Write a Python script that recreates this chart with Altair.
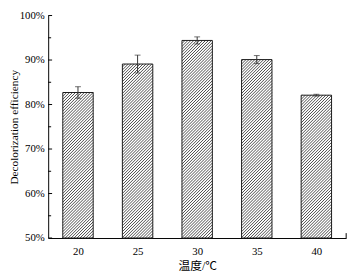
import altair as alt

temps = [20, 25, 30, 35, 40]
eff = [82.7, 89.1, 94.4, 90.1, 82.1]
err = [1.3, 2.0, 0.8, 0.9, 0.2]
tick_major = [50, 60, 70, 80, 90, 100]
tick_minor = [55, 65, 75, 85, 95]

W, H = 304, 227
X0, X1 = 17.5, 42.5
Y0, Y1 = 50, 100
HALF = 1.275          # half bar width in °C units
KX = W / (X1 - X0)    # px per x unit
KY = H / (Y1 - Y0)    # px per y unit

FONT = "Liberation Serif, Noto Sans CJK SC"
HATCH_COLOR = "#4a4a4a"
HATCH_STEP = 3.0      # horizontal spacing of hatch lines, px

rows = []
hatch = []
for t, v, e in zip(temps, eff, err):
    xl, xr = t - HALF, t + HALF
    rows.append({"t": t, "xl": xl, "xr": xr, "v": v, "base": Y0,
                 "lo": v - e, "hi": v + e})
    w = (xr - xl) * KX
    h = (v - Y0) * KY
    c = -w + HATCH_STEP / 2
    while c < h:
        a = max(0.0, -c)
        b = min(w, h - c)
        if b > a:
            hatch.append({"x": xl + a / KX, "x2": xl + b / KX,
                          "y": Y0 + (a + c) / KY, "y2": Y0 + (b + c) / KY})
        c += HATCH_STEP

bars_data = alt.Data(values=rows)
hatch_data = alt.Data(values=hatch)

xs = alt.Scale(domain=[X0, X1], nice=False, zero=False)
ys = alt.Scale(domain=[Y0, Y1], nice=False, zero=False)

x_axis = alt.Axis(title="温度/℃", values=temps, format="d", labelAngle=0,
                  ticks=False, grid=False, labelPadding=8, labelFontSize=11,
                  titleFontSize=12, titleFontWeight="normal", titleY=28,
                  titleBaseline="middle", domainColor="black",
                  labelColor="black", titleColor="black",
                  labelFont=FONT, titleFont=FONT)
y_axis = alt.Axis(title="Decolorization efficiency", values=tick_major,
                  labelExpr="datum.value + '%'", ticks=False, grid=False,
                  labelPadding=4, labelFontSize=11, titleFontSize=11.5,
                  titleFontWeight="normal", titleAngle=-90,
                  titleX=-34, titleY=H / 2, titleAlign="center",
                  titleBaseline="middle", domainColor="black",
                  labelColor="black", titleColor="black",
                  labelFont=FONT, titleFont=FONT)


def X(f):
    return alt.X(f, scale=xs, axis=x_axis, title="温度/℃")


def Y(f):
    return alt.Y(f, scale=ys, axis=y_axis, title="Decolorization efficiency")


base_fill = alt.Chart(bars_data).mark_rect(fill="white", strokeWidth=0).encode(
    x=X("xl:Q"), x2="xr:Q", y=Y("v:Q"), y2="base:Q")

hatch_layer = alt.Chart(hatch_data).mark_rule(
    color=HATCH_COLOR, strokeWidth=1.0).encode(
    x=X("x:Q"), x2="x2:Q", y=Y("y:Q"), y2="y2:Q")

outline = alt.Chart(bars_data).mark_rect(
    fill="transparent", stroke="#1a1a1a", strokeWidth=1).encode(
    x=X("xl:Q"), x2="xr:Q", y=Y("v:Q"), y2="base:Q")

rule = alt.Chart(bars_data).mark_rule(color="#333", strokeWidth=1).encode(
    x=X("t:Q"), y=Y("lo:Q"), y2="hi:Q")
cap_lo = alt.Chart(bars_data).mark_tick(
    color="#333", size=6, thickness=1, orient="horizontal").encode(
    x=X("t:Q"), y=Y("lo:Q"))
cap_hi = alt.Chart(bars_data).mark_tick(
    color="#333", size=6, thickness=1, orient="horizontal").encode(
    x=X("t:Q"), y=Y("hi:Q"))

tmaj = alt.Chart(alt.Data(values=[{"v": v} for v in tick_major])).mark_rule(
    color="black", strokeWidth=1).encode(
    y=Y("v:Q"), x=alt.value(0), x2=alt.value(4))
tmin = alt.Chart(alt.Data(values=[{"v": v} for v in tick_minor])).mark_rule(
    color="black", strokeWidth=1).encode(
    y=Y("v:Q"), x=alt.value(0), x2=alt.value(3))
endtick = alt.Chart(alt.Data(values=[{"v": Y0}])).mark_rule(
    color="black", strokeWidth=1).encode(
    x=alt.value(W), y=Y("v:Q"), y2=alt.value(H - 5))

chart = alt.layer(base_fill, hatch_layer, outline, rule, cap_lo, cap_hi,
                  tmaj, tmin, endtick).properties(
    width=W, height=H,
    autosize=alt.AutoSizeParams(type="none"),
    padding={"left": 41, "top": 5, "right": 8, "bottom": 32},
).configure_view(stroke=None).configure_axis(domainWidth=1)

chart.save("out.html", embed_options={"renderer": "svg", "actions": False})
